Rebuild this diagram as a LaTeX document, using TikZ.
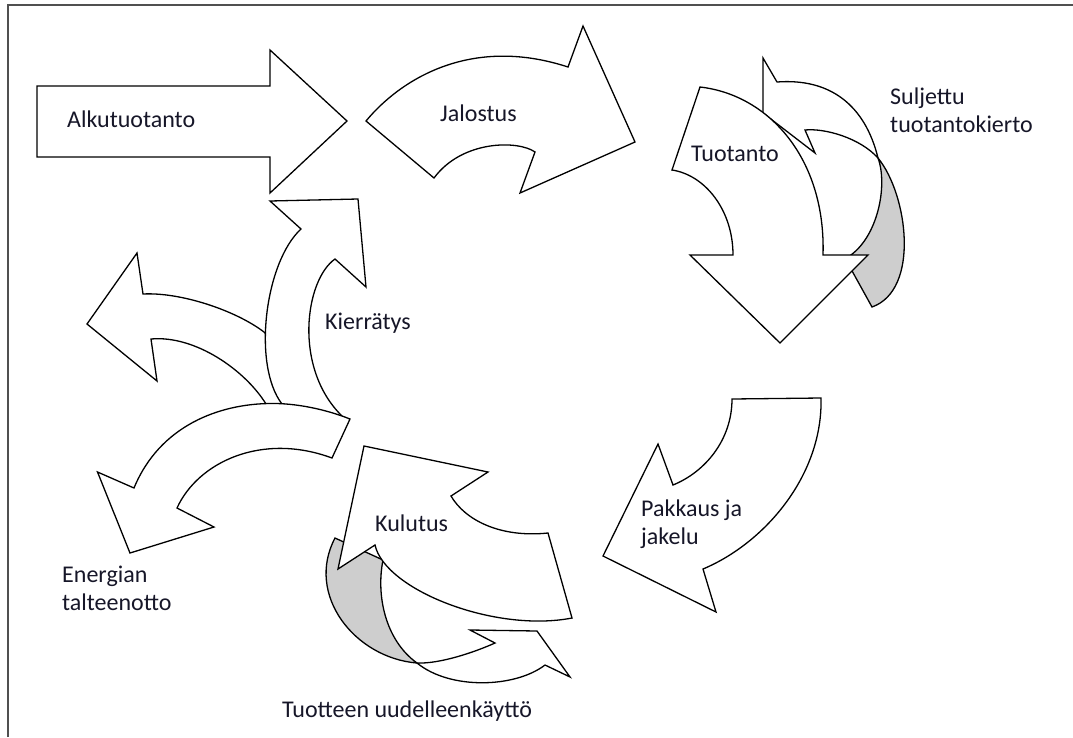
\documentclass[tikz,border=0pt]{standalone}
\usepackage{fontspec}
\setmainfont{Carlito}
\definecolor{backgrey}{RGB}{206,206,206}
\definecolor{framegrey}{RGB}{80,80,80}
\definecolor{labelink}{RGB}{22,22,40}
\begin{document}
\begin{tikzpicture}[x=1pt,y=-1pt,
  ribbon/.style={draw=black,fill=white,line width=1.3pt,line join=miter},
  backface/.style={draw=black,fill=backgrey,line width=1.3pt,line join=miter},
  lbl/.style={anchor=base west,inner sep=0pt,text=labelink,font=\fontsize{24}{28.4}\selectfont}]
\useasboundingbox (0,0) rectangle (1073,737);
\draw[framegrey,line width=1.8pt] (8,737) -- (8,5) -- (1073,5);
% Alkutuotanto
\draw[ribbon] (37,86) -- (270,86) -- (270,50) -- (347,121) -- (270,193) -- (270,157) -- (37,157) -- cycle;
% Jalostus
\draw[ribbon] (366,121) .. controls (400,80) and (470,35) .. (568,67) -- (583,26) -- (635,142) -- (520,193) -- (535,152) .. controls (518,140) and (462,140) .. (434,178) -- cycle;
% Suljettu tuotantokierto: back face and front face
\draw[backface] (878,158) .. controls (908,195) and (920,290) .. (872,307) -- (846,260) -- (848,257) .. controls (878,238) and (888,185) .. (878,158) -- cycle;
\draw[ribbon] (805,130) .. controls (825,128) and (860,138) .. (878,158) .. controls (865,105) and (830,78) .. (777,82) -- (763,58) -- (763,113) -- (815,153) -- cycle;
% Tuotanto
\draw[ribbon] (700,87) .. controls (770,95) and (826,160) .. (823,255) -- (868,255) -- (780,343) -- (690,255) -- (733,255) .. controls (733,210) and (705,175) .. (672,170) -- cycle;
% Pakkaus ja jakelu
\draw[ribbon] (732,399) -- (821,398) .. controls (823,475) and (765,543) .. (703,569) -- (716,612) -- (603,556) -- (658,444) -- (673,485) .. controls (705,472) and (732,440) .. (732,399) -- cycle;
% Tuotteen uudelleenkaytto: back face and front face
\draw[backface] (335,538) -- (383,560) .. controls (376,595) and (385,640) .. (417,663) .. controls (355,658) and (305,595) .. (335,538) -- cycle;
\draw[ribbon] (417,663) .. controls (440,664) and (475,652) .. (495,643) -- (470,630) -- (537,631) -- (570,677) -- (545,665) .. controls (515,688) and (450,690) .. (417,663) -- cycle;
% Kulutus
\draw[ribbon] (364,446) -- (488,472) -- (451,496) .. controls (465,520) and (500,538) .. (548,533) -- (572,618) .. controls (495,633) and (385,590) .. (375,545) -- (338,569) -- cycle;
% left-pointing branch
\draw[ribbon] (143,294) -- (137,253) -- (87,324) -- (157,381) -- (151,339) .. controls (195,335) and (245,370) .. (266,404) -- (275,428) -- (300,428) -- (292,362) -- (264,332) .. controls (235,310) and (180,292) .. (143,294) -- cycle;
% Kierratys
\draw[ribbon] (301,229) -- (270,201) -- (358,199) -- (366,287) -- (335,259) .. controls (305,280) and (293,368) .. (342,416) -- (338,432) -- (283,432) -- (282,404) .. controls (252,365) and (265,262) .. (301,229) -- cycle;
% Energian talteenotto
\draw[ribbon] (350,419) .. controls (325,409) and (295,403) .. (270,403.5) .. controls (220,404) and (160,425) .. (134,488) -- (97.5,472) -- (130,553) -- (214,527) -- (177,508) .. controls (198,462) and (262,432) .. (332,458) -- cycle;
% labels
\node[lbl] (alku) at (67,127) {Alkutuotanto};
\node[lbl] (jalo) at (440,121.5) {Jalostus};
\node[lbl] (tuot) at (691,161.5) {Tuotanto};
\node[lbl] (sulj) at (890,104) {\begin{tabular}[t]{@{}l@{}}Suljettu\\tuotantokierto\end{tabular}};
\node[lbl] (kier) at (325,329) {Kierrätys};
\node[lbl] (pakk) at (641,516) {\begin{tabular}[t]{@{}l@{}}Pakkaus ja\\jakelu\end{tabular}};
\node[lbl] (kulu) at (375,531) {Kulutus};
\node[lbl] (ener) at (62,582) {\begin{tabular}[t]{@{}l@{}}Energian\\talteenotto\end{tabular}};
\node[lbl] (uude) at (282,717) {Tuotteen uudelleenkäyttö};
\end{tikzpicture}
\end{document}
